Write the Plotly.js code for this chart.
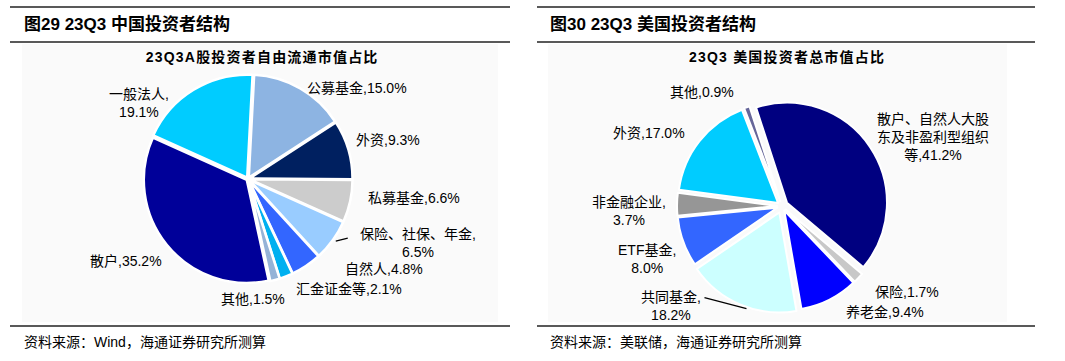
<!DOCTYPE html>
<html><head><meta charset="utf-8">
<script src="https://cdn.plot.ly/plotly-3.0.1.min.js"></script>
<style>body{margin:0;background:#fff}#chart{width:1065px;height:361px}
g.annotation[data-index="2"] text, g.annotation[data-index="3"] text{letter-spacing:1.2px}
</style>
</head><body><div id="chart"></div>
<script>
// ---- data ----
const cnCategories = ['公募基金','外资','私募基金','保险、社保、年金','自然人','汇金证金等','其他','散户','一般法人'];
const cnValues = [15.0, 9.3, 6.6, 6.5, 4.8, 2.1, 1.5, 35.2, 19.1];
const usCategories = ['散户、自然人大股东及非盈利型组织等','保险','养老金','共同基金','ETF基金','非金融企业','外资','其他'];
const usValues = [41.2, 1.7, 9.4, 18.2, 8.0, 3.7, 17.0, 0.9];

const cnTitle = '图29 23Q3 中国投资者结构';
const usTitle = '图30 23Q3 美国投资者结构';
const cnSub = '23Q3A股投资者自由流通市值占比';
const usSub = '23Q3 美国投资者总市值占比';
const cnSource = '资料来源：Wind，海通证券研究所测算';
const usSource = '资料来源：美联储，海通证券研究所测算';

// ---- styles / layout ----
const cnColors = ['#8DB4E2','#002060','#CCCCCC','#99CCFF','#3366FF','#00B0F0','#95B3D7','#000099','#00CCFF'];
const usColors = ['#000080','#C8C8C8','#0000FF','#CCFFFF','#3366FF','#969696','#00CCFF','#666699'];
const cnBreak = [false,false,false,true,false,false,false,false,true];
const usBreak = [false,false,false,true,true,true,false,false];
const cnGeo = {cx:248, cy:179, r:103, rot:3, pull:[0.015,0.015,0.015,0.015,0.015,0.015,0.015,0.015,0.015]};
const usGeo = {cx:782, cy:206, r:100, rot:-18, pull:[0.06,0.05,0.05,0.07,0.05,0.05,0.05,0.05]};
// label nudges in px (dx, dy) from the slice's outer edge along its bisector
const cnShift = [[5,0],[6,-10],[16,-3],[25,3],[37,3],[8,13],[-22,19],[-3,16],[-23,13]];
const usShift = [[5,-10],[14,14],[15,12],[-38,1],[-5,17],[-9,7],[-12,-8],[-11,-15]];
const cnLeader = [{i:3, a:[3,1], b:[15,-2]}];
const usLeader = [{i:3, a:[6,4], b:[-36,-7]}];

const W = 1065, H = 361;
const FONT = '"Liberation Sans", Arial, "Noto Sans CJK SC", sans-serif';
function px(x){return x/W;} function py(y){return 1-y/H;}

function wrap(s, n){ const out=[]; for(let i=0;i<s.length;i+=n) out.push(s.slice(i,i+n)); return out.join('<br>'); }
function labelText(cat, v, brk){
  const pct = v.toFixed(1) + '%';
  if (cat.length > 8) return wrap(cat + ',' + pct, 8);
  return cat + ',' + (brk ? '<br>' : '') + pct;
}
function pieTrace(cats, vals, colors, geo, lw){
  const maxPull = Math.max(...geo.pull), half = geo.r*(1+maxPull);
  return {type:'pie', labels:cats, values:vals, textinfo:'none', sort:false, direction:'clockwise',
    rotation:geo.rot, pull:geo.pull, hoverinfo:'skip',
    marker:{colors:colors, line:{color:'#ffffff', width:lw}},
    domain:{x:[px(geo.cx-half), px(geo.cx+half)], y:[py(geo.cy+half), py(geo.cy-half)]}, showlegend:false};
}
function edgePoints(vals, geo){
  const total = vals.reduce((a,b)=>a+b,0); let cum = 0;
  return vals.map((v,i)=>{
    const th = (geo.rot + (cum + v/2)/total*360)*Math.PI/180; cum += v;
    const d = geo.r*(1+geo.pull[i]);
    return {x:geo.cx + d*Math.sin(th), y:geo.cy - d*Math.cos(th), s:Math.sin(th)};
  });
}
function pieLabels(cats, vals, brk, geo, shifts){
  return edgePoints(vals, geo).map((e,i)=>({
    text:labelText(cats[i], vals[i], brk[i]), xref:'paper', yref:'paper', x:px(e.x), y:py(e.y),
    xanchor: e.s>0.3?'left':(e.s<-0.3?'right':'center'), yanchor:'middle',
    xshift:shifts[i][0], yshift:-shifts[i][1], showarrow:false, align:'center',
    font:{family:FONT, size:14, color:'#000'}}));
}
function leaders(vals, geo, specs){
  const E = edgePoints(vals, geo);
  return specs.map(sp=>({type:'line', xref:'paper', yref:'paper',
    x0:px(E[sp.i].x+sp.a[0]), y0:py(E[sp.i].y+sp.a[1]), x1:px(E[sp.i].x+sp.b[0]), y1:py(E[sp.i].y+sp.b[1]),
    line:{color:'#000000', width:1.2}, layer:'above'}));
}
function hline(x0,x1,y,w){ return {type:'line', xref:'paper', yref:'paper', x0:px(x0), x1:px(x1), y0:py(y), y1:py(y), line:{color:'#222', width:w}}; }
function rect(x0,x1,y0,y1){ return {type:'rect', xref:'paper', yref:'paper', x0:px(x0), x1:px(x1), y0:py(y1), y1:py(y0), fillcolor:'#fafafa', line:{width:0}, layer:'below'}; }
function ann(text,x,y,size,bold,anchor){ return {text: bold?'<b>'+text+'</b>':text, xref:'paper', yref:'paper', x:px(x), y:py(y), xanchor:anchor, yanchor:'middle', showarrow:false, font:{family:FONT, size:size, color:'#000'}}; }

const traces = [pieTrace(cnCategories, cnValues, cnColors, cnGeo, 2.5), pieTrace(usCategories, usValues, usColors, usGeo, 2)];

const shapes = [
  rect(22,498,44,322), rect(548,1007,44,322),
  hline(10,510,7,1.5), hline(10,510,42,1.5), hline(10,510,326,1.5),
  hline(537,1035,7,1.5), hline(537,1035,42,1.5), hline(537,1035,326,1.5)
].concat(leaders(cnValues, cnGeo, cnLeader), leaders(usValues, usGeo, usLeader));

const annotations = [
  ann(cnTitle,22,24,17,true,'left'), ann(usTitle,548,24,17,true,'left'),
  ann(cnSub,262,57,14,true,'center'), ann(usSub,787,57,14,true,'center'),
  ann(cnSource,22,342,14,false,'left'), ann(usSource,548,342,14,false,'left')
].concat(pieLabels(cnCategories, cnValues, cnBreak, cnGeo, cnShift),
         pieLabels(usCategories, usValues, usBreak, usGeo, usShift));

Plotly.newPlot('chart', traces, {
  width:W, height:H, margin:{l:0,r:0,t:0,b:0}, paper_bgcolor:'#ffffff',
  shapes:shapes, annotations:annotations, showlegend:false
}, {displayModeBar:false, staticPlot:true});
</script></body></html>
